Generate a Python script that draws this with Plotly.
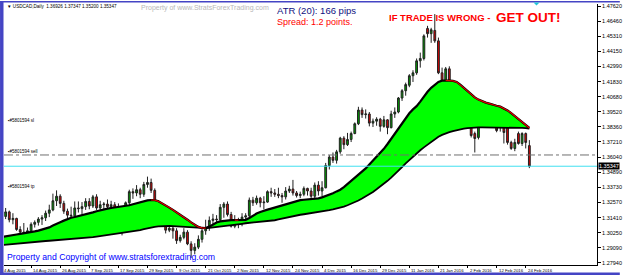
import plotly.graph_objects as go

# ---------------- DATA ----------------
tick_idx = [0, 8, 16, 24, 32, 40, 48, 56, 64, 72, 80, 88, 96, 104, 112, 120, 128, 136, 144]
tick_labels = ["4 Aug 2015", "14 Aug 2015", "26 Aug 2015", "7 Sep 2015", "17 Sep 2015",
               "29 Sep 2015", "9 Oct 2015", "21 Oct 2015", "2 Nov 2015", "12 Nov 2015",
               "24 Nov 2015", "4 Dec 2015", "16 Dec 2015", "29 Dec 2015", "11 Jan 2016",
               "21 Jan 2016", "2 Feb 2016", "12 Feb 2016", "24 Feb 2016"]

opens = [1.3140,1.3150,1.3185,1.3125,1.3135,1.3050,1.3030,1.3010,1.3040,1.3090,
         1.3105,1.3130,1.3140,1.3175,1.3200,1.3270,1.3305,1.3250,1.3190,1.3160,
         1.3155,1.3215,1.3210,1.3225,1.3265,1.3230,1.3300,1.3215,1.3240,1.3245,
         1.3225,1.3240,1.3175,1.3180,1.3175,1.3255,1.3340,1.3330,1.3355,1.3320,
         1.3395,1.3410,1.3350,1.3265,1.3160,1.3090,1.3045,1.3060,1.3040,1.2965,
         1.2990,1.3030,1.2940,1.2890,1.2915,1.2975,1.3040,1.3065,1.3120,1.3130,
         1.3125,1.3220,1.3245,1.3165,1.3075,1.3125,1.3095,1.3145,1.3155,1.3275,
         1.3255,1.3290,1.3255,1.3260,1.3340,1.3330,1.3320,1.3310,1.3300,1.3345,
         1.3360,1.3330,1.3310,1.3320,1.3365,1.3345,1.3305,1.3390,1.3345,1.3370,
         1.3540,1.3605,1.3580,1.3645,1.3750,1.3700,1.3740,1.3785,1.3860,1.3965,
         1.3930,1.3935,1.3865,1.3880,1.3895,1.3840,1.3890,1.3830,1.3935,1.3950,
         1.4057,1.4113,1.4155,1.4228,1.4250,1.4342,1.4360,1.4590,1.4550,1.4575,
         1.4495,1.4250,1.4120,1.4281,1.4113,1.4022,1.4060,1.3946,1.4060,1.4030,
         1.3785,1.3755,1.3885,1.3923,1.3999,1.3880,1.3923,1.3846,1.3846,1.3846,
         1.3717,1.3671,1.3785,1.3709,1.3785,1.36926]
highs = [1.3200,1.3215,1.3195,1.3175,1.3140,1.3075,1.3100,1.3065,1.3105,1.3120,
         1.3145,1.3160,1.3195,1.3240,1.3325,1.3350,1.3320,1.3270,1.3210,1.3225,
         1.3265,1.3265,1.3260,1.3290,1.3290,1.3315,1.3320,1.3270,1.3260,1.3280,
         1.3270,1.3260,1.3250,1.3195,1.3265,1.3355,1.3365,1.3390,1.3370,1.3415,
         1.3455,1.3440,1.3365,1.3275,1.3190,1.3115,1.3110,1.3075,1.3060,1.3010,
         1.3060,1.3045,1.2960,1.2945,1.3005,1.3055,1.3125,1.3150,1.3170,1.3160,
         1.3245,1.3260,1.3265,1.3185,1.3160,1.3140,1.3175,1.3175,1.3295,1.3300,
         1.3310,1.3300,1.3305,1.3350,1.3370,1.3360,1.3370,1.3330,1.3375,1.3385,
         1.3430,1.3345,1.3340,1.3380,1.3370,1.3370,1.3410,1.3420,1.3420,1.3560,
         1.3620,1.3640,1.3660,1.3760,1.3765,1.3790,1.3800,1.3870,1.3990,1.3985,
         1.3970,1.3950,1.3900,1.3910,1.3905,1.3920,1.3895,1.3960,1.3985,1.4065,
         1.4125,1.4175,1.4240,1.4270,1.4360,1.4405,1.4545,1.4610,1.4595,1.4700,
         1.4520,1.4290,1.4295,1.4300,1.4150,1.4090,1.4085,1.4090,1.4090,1.4050,
         1.3800,1.3920,1.3950,1.3940,1.4010,1.3965,1.3940,1.3860,1.3870,1.3860,
         1.3730,1.3745,1.3800,1.3795,1.3793,1.37347]
lows = [1.3115,1.3130,1.3105,1.3090,1.3040,1.2980,1.2975,1.2990,1.3025,1.3065,
        1.3080,1.3085,1.3115,1.3145,1.3190,1.3230,1.3215,1.3170,1.3130,1.3100,
        1.3140,1.3180,1.3165,1.3200,1.3205,1.3215,1.3200,1.3190,1.3200,1.3205,
        1.3200,1.3160,1.3140,1.3005,1.3165,1.3240,1.3285,1.3305,1.3290,1.3300,
        1.3370,1.3330,1.3245,1.3150,1.3080,1.3020,1.3030,1.2980,1.2940,1.2950,
        1.2975,1.2930,1.2832,1.2860,1.2900,1.2950,1.3010,1.3040,1.3080,1.3090,
        1.3110,1.3140,1.3150,1.3065,1.3060,1.3060,1.3075,1.3110,1.3145,1.3230,
        1.3240,1.3220,1.3205,1.3255,1.3300,1.3300,1.3290,1.3255,1.3280,1.3330,
        1.3310,1.3295,1.3290,1.3305,1.3310,1.3280,1.3285,1.3310,1.3300,1.3365,
        1.3510,1.3560,1.3555,1.3630,1.3665,1.3690,1.3720,1.3780,1.3850,1.3905,
        1.3900,1.3840,1.3835,1.3845,1.3800,1.3830,1.3780,1.3825,1.3905,1.3940,
        1.4035,1.4075,1.4140,1.4180,1.4235,1.4290,1.4345,1.4520,1.4480,1.4480,
        1.4240,1.4100,1.4105,1.4095,1.4000,1.3930,1.3930,1.3940,1.3950,1.3755,
        1.3640,1.3740,1.3850,1.3840,1.3890,1.3850,1.3795,1.3800,1.3709,1.3700,
        1.3660,1.3650,1.3700,1.3690,1.3671,1.35200]
closes = [1.3150,1.3185,1.3125,1.3135,1.3050,1.3030,1.3010,1.3040,1.3090,1.3105,
          1.3130,1.3140,1.3175,1.3200,1.3270,1.3305,1.3250,1.3190,1.3160,1.3155,
          1.3215,1.3210,1.3225,1.3265,1.3230,1.3300,1.3215,1.3240,1.3245,1.3225,
          1.3240,1.3175,1.3180,1.3175,1.3255,1.3340,1.3330,1.3355,1.3320,1.3395,
          1.3410,1.3350,1.3265,1.3160,1.3090,1.3045,1.3060,1.3040,1.2965,1.2990,
          1.3030,1.2940,1.2890,1.2915,1.2975,1.3040,1.3065,1.3120,1.3130,1.3125,
          1.3220,1.3245,1.3165,1.3075,1.3125,1.3095,1.3145,1.3155,1.3275,1.3255,
          1.3290,1.3255,1.3260,1.3340,1.3330,1.3320,1.3310,1.3300,1.3345,1.3360,
          1.3330,1.3310,1.3320,1.3365,1.3345,1.3305,1.3390,1.3345,1.3370,1.3540,
          1.3605,1.3580,1.3645,1.3750,1.3700,1.3740,1.3785,1.3860,1.3965,1.3930,
          1.3935,1.3865,1.3880,1.3895,1.3840,1.3890,1.3830,1.3935,1.3950,1.4057,
          1.4113,1.4160,1.4228,1.4250,1.4342,1.4360,1.4533,1.4550,1.4580,1.4495,
          1.4250,1.4113,1.4281,1.4113,1.4022,1.4060,1.3946,1.4075,1.3975,1.3770,
          1.3747,1.3907,1.3923,1.3862,1.3908,1.3945,1.3808,1.3840,1.3793,1.3717,
          1.3671,1.3717,1.3709,1.3785,1.3717,1.35347]

upper_ma = [1.2992,1.2998,1.3003,1.3008,1.3012,1.3016,1.3020,1.3024,1.3030,1.3036,
            1.3042,1.3049,1.3056,1.3066,1.3080,1.3095,1.3106,1.3118,1.3130,1.3140,
            1.3146,1.3152,1.3158,1.3165,1.3172,1.3181,1.3190,1.3198,1.3204,1.3210,
            1.3215,1.3219,1.3223,1.3226,1.3230,1.3236,1.3244,1.3252,1.3260,1.3267,
            1.3273,1.3276,1.3275,1.3266,1.3252,1.3236,1.3218,1.3200,1.3182,1.3165,
            1.3146,1.3125,1.3104,1.3085,1.3070,1.3062,1.3061,1.3072,1.3090,1.3104,
            1.3112,1.3117,1.3120,1.3122,1.3122,1.3121,1.3121,1.3124,1.3138,1.3158,
            1.3172,1.3184,1.3195,1.3202,1.3210,1.3218,1.3228,1.3236,1.3245,1.3254,
            1.3262,1.3270,1.3275,1.3278,1.3280,1.3282,1.3285,1.3289,1.3296,1.3305,
            1.3316,1.3328,1.3342,1.3355,1.3375,1.3398,1.3420,1.3443,1.3465,1.3490,
            1.3518,1.3548,1.3578,1.3605,1.3630,1.3668,1.3705,1.3745,1.3790,1.3830,
            1.3870,1.3905,1.3940,1.3970,1.3995,1.4030,1.4070,1.4105,1.4135,1.4160,
            1.4180,1.4190,1.4192,1.4191,1.4188,1.4180,1.4160,1.4135,1.4110,1.4085,
            1.4062,1.4045,1.4032,1.4022,1.4014,1.4003,1.3998,1.3991,1.3979,1.3962,
            1.3942,1.3920,1.3898,1.3874,1.3848,1.3828]
lower_ma = [1.2931,1.2934,1.2937,1.2940,1.2943,1.2946,1.2948,1.2951,1.2954,1.2956,
            1.2958,1.2960,1.2962,1.2964,1.2966,1.2968,1.2970,1.2972,1.2974,1.2976,
            1.2978,1.2980,1.2983,1.2986,1.2989,1.2992,1.2996,1.3000,1.3004,1.3008,
            1.3012,1.3016,1.3020,1.3024,1.3027,1.3030,1.3034,1.3040,1.3046,1.3053,
            1.3060,1.3066,1.3071,1.3074,1.3076,1.3077,1.3077,1.3076,1.3074,1.3071,
            1.3068,1.3066,1.3064,1.3062,1.3061,1.3060,1.3060,1.3062,1.3065,1.3068,
            1.3071,1.3074,1.3078,1.3082,1.3086,1.3090,1.3094,1.3098,1.3101,1.3103,
            1.3105,1.3107,1.3109,1.3112,1.3116,1.3121,1.3127,1.3134,1.3140,1.3146,
            1.3152,1.3158,1.3163,1.3167,1.3171,1.3176,1.3180,1.3184,1.3189,1.3194,
            1.3199,1.3205,1.3211,1.3218,1.3226,1.3236,1.3247,1.3259,1.3272,1.3287,
            1.3303,1.3320,1.3338,1.3358,1.3378,1.3400,1.3423,1.3447,1.3472,1.3500,
            1.3528,1.3556,1.3583,1.3610,1.3634,1.3657,1.3679,1.3700,1.3722,1.3742,
            1.3760,1.3775,1.3787,1.3796,1.3804,1.3811,1.3817,1.3822,1.3826,1.3829,
            1.3831,1.3832,1.3832,1.3832,1.3832,1.3832,1.3832,1.3831,1.3831,1.3831,
            1.3830,1.3830,1.3829,1.3828,1.3826,1.3822]

price_ticks = [1.47620, 1.46460, 1.45310, 1.44150, 1.42990, 1.41830, 1.40680, 1.39520,
               1.38360, 1.37210, 1.36040, 1.34890, 1.33730, 1.32570, 1.31410, 1.30250,
               1.29090, 1.27940]

bid_price = 1.35347
sell_level = 1.3621
sl_level = 1.3862
tp_level = 1.3356
order_id = "#5801594"

# ---------------- LAYOUT HELPERS (pixel -> paper) ----------------
W, H = 625, 275
ML, MR, MT, MB = 4, 23, 3, 10
PW, PH = W - ML - MR, H - MT - MB
X_RANGE = [0.55, 163.6]
Y_RANGE = [1.27782, 1.47773]

def px(x):
    return (x - ML) / PW

def py(y):
    return 1 - (y - MT) / PH

def idx_to_paper(i):
    return (i - X_RANGE[0]) / (X_RANGE[1] - X_RANGE[0])

n = len(closes)
xs = list(range(n))

fig = go.Figure()

# band (lower then upper filled to lower)
fig.add_trace(go.Scatter(x=xs, y=lower_ma, mode="lines",
                         line=dict(color="black", width=1.8), hoverinfo="skip"))
fig.add_trace(go.Scatter(x=xs, y=upper_ma, mode="lines", fill="tonexty",
                         fillcolor="#00FF00", line=dict(color="black", width=2.2),
                         hoverinfo="skip"))
# red overlay where upper MA is falling
red_y = []
for i in range(n):
    falling = (i > 0 and upper_ma[i] < upper_ma[i - 1]) or \
              (i + 1 < n and upper_ma[i + 1] < upper_ma[i])
    red_y.append(upper_ma[i] if falling else None)
fig.add_trace(go.Scatter(x=xs, y=red_y, mode="lines", connectgaps=False,
                         line=dict(color="#E00000", width=1.2), hoverinfo="skip"))

fig.add_trace(go.Candlestick(
    x=xs, open=opens, high=highs, low=lows, close=closes,
    increasing=dict(fillcolor="#00A000", line=dict(color="#202020", width=1)),
    decreasing=dict(fillcolor="#E00000", line=dict(color="#202020", width=1)),
    whiskerwidth=0, hoverinfo="skip"))

shapes = []
shapes.append(dict(type="line", xref="paper", yref="y", x0=0, x1=1,
                   y0=sell_level, y1=sell_level,
                   line=dict(color="#707070", width=1, dash="dashdot")))
shapes.append(dict(type="line", xref="paper", yref="y", x0=0, x1=1,
                   y0=bid_price, y1=bid_price,
                   line=dict(color="#40E0F0", width=1)))
frame = "#4444C4"
shapes.append(dict(type="rect", xref="paper", yref="paper", x0=px(0), x1=px(3.5),
                   y0=py(H), y1=py(0), fillcolor=frame, line=dict(width=0), layer="above"))
shapes.append(dict(type="rect", xref="paper", yref="paper", x0=px(0), x1=px(W),
                   y0=py(1.5), y1=py(0), fillcolor=frame, line=dict(width=0), layer="above"))
shapes.append(dict(type="rect", xref="paper", yref="paper", x0=px(0), x1=px(W),
                   y0=py(H), y1=py(272.5), fillcolor=frame, line=dict(width=0), layer="above"))
shapes.append(dict(type="path", xref="paper", yref="paper",
                   path=f"M {px(538)} {py(1.5)} L {px(544)} {py(1.5)} L {px(541)} {py(4.5)} Z",
                   fillcolor="#20C8D8", line=dict(width=0), layer="above"))

ann = []
for idx, lab in zip(tick_idx, tick_labels):
    ann.append(dict(x=idx_to_paper(idx), y=0, xref="paper", yref="paper", text=lab,
                    showarrow=False, xanchor="left", yanchor="top", xshift=0, yshift=-1,
                    font=dict(family="Liberation Sans", size=4.3, color="black")))
for lvl, suffix in [(sl_level, " sl"), (sell_level, " sell"), (tp_level, " tp")]:
    ann.append(dict(x=px(6), y=lvl, xref="paper", yref="y", text="▪" + order_id + suffix,
                    showarrow=False, xanchor="left", yanchor="bottom", yshift=-1,
                    font=dict(family="Liberation Sans", size=4.5, color="black")))
ann.append(dict(x=1, y=bid_price, xref="paper", yref="y", text=f"{bid_price:.5f}",
                showarrow=False, xanchor="left", yanchor="middle", xshift=1,
                bgcolor="black", borderpad=0,
                font=dict(family="Liberation Sans", size=5.5, color="white")))
ann.append(dict(x=px(5), y=py(6), xref="paper", yref="paper",
                text=f"▼ USDCAD,Daily  {opens[-1]:.5f} {highs[-1]:.5f} {lows[-1]:.5f} {closes[-1]:.5f}",
                showarrow=False, xanchor="left", yanchor="middle",
                font=dict(family="Liberation Sans", size=4.6, color="black")))
ann.append(dict(x=px(140), y=py(7.5), xref="paper", yref="paper",
                text="Property of www.StratsForexTrading.com", showarrow=False,
                xanchor="left", yanchor="middle",
                font=dict(family="Liberation Sans", size=7, color="#B8B8B8")))
ann.append(dict(x=px(277), y=py(10), xref="paper", yref="paper",
                text="ATR (20): 166 pips", showarrow=False, xanchor="left", yanchor="middle",
                font=dict(family="Liberation Sans", size=9.5, color="#101080")))
ann.append(dict(x=px(277), y=py(21), xref="paper", yref="paper",
                text="Spread: 1.2 points.", showarrow=False, xanchor="left", yanchor="middle",
                font=dict(family="Liberation Sans", size=9, color="#FF0000")))
ann.append(dict(x=px(390), y=py(17), xref="paper", yref="paper",
                text="<b>IF TRADE IS WRONG -</b>", showarrow=False, xanchor="left",
                yanchor="middle", font=dict(family="Liberation Sans", size=9.5, color="#FF0000")))
ann.append(dict(x=px(498), y=py(16.5), xref="paper", yref="paper",
                text="<b>GET OUT!</b>", showarrow=False, xanchor="left", yanchor="middle",
                font=dict(family="Liberation Sans", size=13.5, color="#FF0000")))
ann.append(dict(x=px(5), y=py(257), xref="paper", yref="paper",
                text="Property and Copyright of www.stratsforextrading.com", showarrow=False,
                xanchor="left", yanchor="middle",
                font=dict(family="Liberation Sans", size=8.7, color="#0000FF")))

fig.update_layout(
    width=W, height=H, margin=dict(l=ML, r=MR, t=MT, b=MB, pad=0),
    paper_bgcolor="white", plot_bgcolor="white", showlegend=False,
    shapes=shapes, annotations=ann,
    xaxis=dict(range=X_RANGE, showgrid=False, zeroline=False, showline=True,
               linecolor="black", linewidth=1, ticks="outside", ticklen=2,
               tickcolor="black", tickvals=tick_idx, showticklabels=False,
               rangeslider=dict(visible=False), fixedrange=True),
    yaxis=dict(range=Y_RANGE, side="right", showgrid=False, zeroline=False,
               showline=True, linecolor="black", linewidth=1, ticks="outside", ticklen=3,
               tickcolor="black", tickvals=price_ticks,
               ticktext=[f"{v:.5f}" for v in price_ticks],
               tickfont=dict(family="Liberation Sans", size=5.5, color="black"),
               fixedrange=True),
)

fig.write_html("out.html")
